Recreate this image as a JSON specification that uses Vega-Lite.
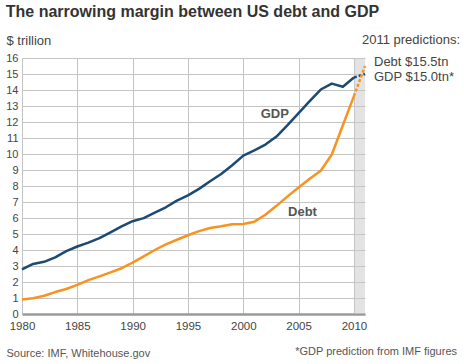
{
  "$schema": "https://vega.github.io/schema/vega-lite/v6.json",
  "width": 343,
  "height": 256,
  "autosize": {"type": "none"},
  "padding": {"left": 22, "top": 58, "right": 99, "bottom": 50},
  "background": "white",
  "config": {
    "font": "Liberation Sans",
    "view": {"stroke": null},
    "axis": {"labelFont": "Liberation Sans", "titleFont": "Liberation Sans"},
    "axisY": {"tickCount": 20}
  },
  "title": {
    "text": "The narrowing margin between US debt and GDP",
    "anchor": "start",
    "frame": "bounds",
    "offset": 14,
    "fontSize": 16,
    "fontWeight": "bold",
    "color": "#333333"
  },
  "data": {
    "values": [
      {"year": 1980, "series": "GDP", "value": 2.79, "part": "actual"},
      {"year": 1981, "series": "GDP", "value": 3.13, "part": "actual"},
      {"year": 1982, "series": "GDP", "value": 3.26, "part": "actual"},
      {"year": 1983, "series": "GDP", "value": 3.54, "part": "actual"},
      {"year": 1984, "series": "GDP", "value": 3.93, "part": "actual"},
      {"year": 1985, "series": "GDP", "value": 4.22, "part": "actual"},
      {"year": 1986, "series": "GDP", "value": 4.46, "part": "actual"},
      {"year": 1987, "series": "GDP", "value": 4.74, "part": "actual"},
      {"year": 1988, "series": "GDP", "value": 5.1, "part": "actual"},
      {"year": 1989, "series": "GDP", "value": 5.48, "part": "actual"},
      {"year": 1990, "series": "GDP", "value": 5.8, "part": "actual"},
      {"year": 1991, "series": "GDP", "value": 5.99, "part": "actual"},
      {"year": 1992, "series": "GDP", "value": 6.34, "part": "actual"},
      {"year": 1993, "series": "GDP", "value": 6.67, "part": "actual"},
      {"year": 1994, "series": "GDP", "value": 7.09, "part": "actual"},
      {"year": 1995, "series": "GDP", "value": 7.41, "part": "actual"},
      {"year": 1996, "series": "GDP", "value": 7.82, "part": "actual"},
      {"year": 1997, "series": "GDP", "value": 8.3, "part": "actual"},
      {"year": 1998, "series": "GDP", "value": 8.75, "part": "actual"},
      {"year": 1999, "series": "GDP", "value": 9.3, "part": "actual"},
      {"year": 2000, "series": "GDP", "value": 9.9, "part": "actual"},
      {"year": 2001, "series": "GDP", "value": 10.23, "part": "actual"},
      {"year": 2002, "series": "GDP", "value": 10.59, "part": "actual"},
      {"year": 2003, "series": "GDP", "value": 11.09, "part": "actual"},
      {"year": 2004, "series": "GDP", "value": 11.8, "part": "actual"},
      {"year": 2005, "series": "GDP", "value": 12.56, "part": "actual"},
      {"year": 2006, "series": "GDP", "value": 13.31, "part": "actual"},
      {"year": 2007, "series": "GDP", "value": 14.03, "part": "actual"},
      {"year": 2008, "series": "GDP", "value": 14.4, "part": "actual"},
      {"year": 2009, "series": "GDP", "value": 14.2, "part": "actual"},
      {"year": 2010, "series": "GDP", "value": 14.78, "part": "actual"},
      {"year": 2010, "series": "GDP", "value": 14.78, "part": "forecast"},
      {"year": 2011, "series": "GDP", "value": 15.0, "part": "forecast"},
      {"year": 1980, "series": "Debt", "value": 0.91, "part": "actual"},
      {"year": 1981, "series": "Debt", "value": 0.99, "part": "actual"},
      {"year": 1982, "series": "Debt", "value": 1.14, "part": "actual"},
      {"year": 1983, "series": "Debt", "value": 1.37, "part": "actual"},
      {"year": 1984, "series": "Debt", "value": 1.56, "part": "actual"},
      {"year": 1985, "series": "Debt", "value": 1.82, "part": "actual"},
      {"year": 1986, "series": "Debt", "value": 2.12, "part": "actual"},
      {"year": 1987, "series": "Debt", "value": 2.35, "part": "actual"},
      {"year": 1988, "series": "Debt", "value": 2.6, "part": "actual"},
      {"year": 1989, "series": "Debt", "value": 2.86, "part": "actual"},
      {"year": 1990, "series": "Debt", "value": 3.21, "part": "actual"},
      {"year": 1991, "series": "Debt", "value": 3.6, "part": "actual"},
      {"year": 1992, "series": "Debt", "value": 4.0, "part": "actual"},
      {"year": 1993, "series": "Debt", "value": 4.35, "part": "actual"},
      {"year": 1994, "series": "Debt", "value": 4.64, "part": "actual"},
      {"year": 1995, "series": "Debt", "value": 4.92, "part": "actual"},
      {"year": 1996, "series": "Debt", "value": 5.18, "part": "actual"},
      {"year": 1997, "series": "Debt", "value": 5.37, "part": "actual"},
      {"year": 1998, "series": "Debt", "value": 5.48, "part": "actual"},
      {"year": 1999, "series": "Debt", "value": 5.61, "part": "actual"},
      {"year": 2000, "series": "Debt", "value": 5.63, "part": "actual"},
      {"year": 2001, "series": "Debt", "value": 5.77, "part": "actual"},
      {"year": 2002, "series": "Debt", "value": 6.2, "part": "actual"},
      {"year": 2003, "series": "Debt", "value": 6.76, "part": "actual"},
      {"year": 2004, "series": "Debt", "value": 7.35, "part": "actual"},
      {"year": 2005, "series": "Debt", "value": 7.91, "part": "actual"},
      {"year": 2006, "series": "Debt", "value": 8.45, "part": "actual"},
      {"year": 2007, "series": "Debt", "value": 8.95, "part": "actual"},
      {"year": 2008, "series": "Debt", "value": 9.97, "part": "actual"},
      {"year": 2009, "series": "Debt", "value": 11.8, "part": "actual"},
      {"year": 2010, "series": "Debt", "value": 13.62, "part": "actual"},
      {"year": 2010, "series": "Debt", "value": 13.62, "part": "forecast"},
      {"year": 2011, "series": "Debt", "value": 15.5, "part": "forecast"}
    ]
  },
  "layer": [
    {
      "data": {"values": [{"band": "2011"}]},
      "mark": {"type": "rect", "fill": "#c8c8c8", "opacity": 0.5},
      "encoding": {
        "x": {
          "datum": 2010,
          "type": "quantitative",
          "scale": {"domain": [1980, 2011], "nice": false, "zero": false},
          "axis": {
            "values": [1980, 1985, 1990, 1995, 2000, 2005, 2010],
            "tickCount": 20,
            "format": "d",
            "labelFontSize": 11.5,
            "labelColor": "#444444",
            "labelPadding": 6,
            "labelFlush": false,
            "labelOverlap": false,
            "ticks": false,
            "grid": true,
            "gridColor": "#c4c4c4",
            "gridWidth": 1,
            "domain": true,
            "domainColor": "#9a9a9a",
            "domainWidth": 2.5,
            "title": "Source: IMF, Whitehouse.gov",
            "titleFontSize": 11,
            "titleFontWeight": "normal",
            "titleColor": "#555555",
            "titleAlign": "left",
            "titleBaseline": "alphabetic",
            "titleAnchor": "start",
            "titleX": -16,
            "titleY": 42
          }
        },
        "x2": {"datum": 2011},
        "y": {
          "datum": 0,
          "type": "quantitative",
          "scale": {"domain": [0, 16], "nice": false},
          "axis": {
            "values": [0, 1, 2, 3, 4, 5, 6, 7, 8, 9, 10, 11, 12, 13, 14, 15, 16],
            "tickCount": 20,
            "labelFontSize": 11,
            "labelColor": "#444444",
            "labelPadding": 4,
            "labelOverlap": false,
            "labelFlush": false,
            "ticks": false,
            "grid": true,
            "gridColor": "#c4c4c4",
            "gridWidth": 1,
            "domain": true,
            "domainColor": "#c4c4c4",
            "title": "$ trillion",
            "titleAngle": 0,
            "titleFontSize": 13,
            "titleFontWeight": "normal",
            "titleColor": "#444444",
            "titleAlign": "left",
            "titleBaseline": "alphabetic",
            "titleX": -16,
            "titleY": -14
          }
        },
        "y2": {"datum": 16}
      }
    },
    {
      "transform": [{"filter": "datum.part === 'actual'"}],
      "mark": {"type": "line", "strokeWidth": 2.5, "strokeJoin": "round"},
      "encoding": {
        "x": {"field": "year", "type": "quantitative"},
        "y": {
          "field": "value",
          "type": "quantitative",
          "axis": {
            "values": [0, 1, 2, 3, 4, 5, 6, 7, 8, 9, 10, 11, 12, 13, 14, 15, 16],
            "tickCount": 20
          }
        },
        "color": {
          "field": "series",
          "type": "nominal",
          "scale": {"domain": ["GDP", "Debt"], "range": ["#1b4a72", "#f7931e"]},
          "legend": null
        }
      }
    },
    {
      "transform": [{"filter": "datum.part === 'forecast'"}],
      "mark": {"type": "line", "strokeWidth": 2.5, "strokeDash": [3, 2]},
      "encoding": {
        "x": {"field": "year", "type": "quantitative"},
        "y": {"field": "value", "type": "quantitative"},
        "color": {"field": "series", "type": "nominal", "legend": null}
      }
    },
    {
      "data": {"values": [{"label": "GDP"}]},
      "mark": {"type": "text", "fontSize": 13, "fontWeight": "bold", "color": "#555555", "align": "center", "baseline": "middle"},
      "encoding": {
        "x": {"datum": 2002.85, "type": "quantitative"},
        "y": {"datum": 12.5, "type": "quantitative"},
        "text": {"field": "label"}
      }
    },
    {
      "data": {"values": [{"label": "Debt"}]},
      "mark": {"type": "text", "fontSize": 13, "fontWeight": "bold", "color": "#555555", "align": "center", "baseline": "middle"},
      "encoding": {
        "x": {"datum": 2005.35, "type": "quantitative"},
        "y": {"datum": 6.4, "type": "quantitative"},
        "text": {"field": "label"}
      }
    },
    {
      "data": {"values": [{"label": "Debt $15.5tn"}]},
      "mark": {"type": "text", "fontSize": 13, "color": "#444444", "align": "left", "baseline": "middle", "dx": 9},
      "encoding": {
        "x": {"datum": 2011, "type": "quantitative"},
        "y": {"datum": 15.75, "type": "quantitative"},
        "text": {"field": "label"}
      }
    },
    {
      "data": {"values": [{"label": "GDP $15.0tn*"}]},
      "mark": {"type": "text", "fontSize": 13, "color": "#444444", "align": "left", "baseline": "middle", "dx": 9},
      "encoding": {
        "x": {"datum": 2011, "type": "quantitative"},
        "y": {"datum": 14.8, "type": "quantitative"},
        "text": {"field": "label"}
      }
    },
    {
      "data": {"values": [{"label": "2011 predictions:"}]},
      "mark": {"type": "text", "fontSize": 13, "color": "#444444", "align": "right", "baseline": "middle", "dx": 95, "dy": -18},
      "encoding": {
        "x": {"datum": 2011, "type": "quantitative"},
        "y": {"datum": 16, "type": "quantitative"},
        "text": {"field": "label"}
      }
    },
    {
      "data": {"values": [{"label": "*GDP prediction from IMF figures"}]},
      "mark": {"type": "text", "fontSize": 11, "color": "#555555", "align": "right", "baseline": "middle", "dx": 92, "dy": 38},
      "encoding": {
        "x": {"datum": 2011, "type": "quantitative"},
        "y": {"datum": 0, "type": "quantitative"},
        "text": {"field": "label"}
      }
    }
  ]
}
